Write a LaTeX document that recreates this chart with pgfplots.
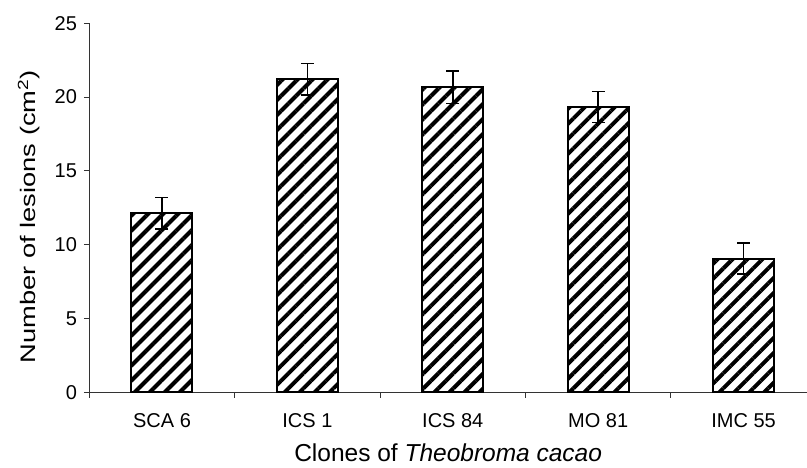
\documentclass[border=0pt]{standalone}
\usepackage{pgfplots}
\pgfplotsset{compat=1.18}
\usepackage{graphicx}
\usepackage{fontspec}
\setmainfont{Liberation Sans}
\usetikzlibrary{patterns.meta}
\pgfplotstableread{
x  y     e
0  12.13 1.07
1  21.22 1.07
2  20.66 1.10
3  19.33 1.05
4  9.05  1.05
}\lesions
\begin{document}
\fontsize{20}{24}\selectfont
\begin{tikzpicture}
\useasboundingbox (-89.3pt,-74.7pt) rectangle (717.7pt,392.3pt);
\begin{axis}[
  at={(0pt,0pt)}, anchor=south west,
  scale only axis, width=717.7pt, height=369pt,
  xmin=-0.5, xmax=4.436, ymin=0, ymax=25,
  axis x line*=bottom, axis y line*=left,
  axis line style={black!80, line width=0.9pt},
  tick style={black!80, line width=0.9pt},
  tick align=outside,
  major tick length=5.5pt,
  ytick={0,5,...,25},
  xtick={-0.5,0.5,1.5,2.5,3.5},
  xticklabels={},
  extra x ticks={0,1,2,3,4},
  extra x tick labels={SCA 6, ICS 1, ICS 84, MO 81, IMC 55},
  extra x tick style={tick style={draw=none}},
  /pgf/number format/assume math mode=true,
  ticklabel style={font=\fontsize{20}{24}\selectfont},
  xticklabel style={yshift=-9pt},
  ylabel={\scalebox{1.3}[1]{Number of lesions (cm\textsuperscript{2})}},
  ylabel style={font=\fontsize{21}{25}\selectfont, at={(axis description cs:-0.084,0.476)}, anchor=center},
  xlabel={Clones of \textit{Theobroma cacao}},
  xlabel style={font=\fontsize{24.5}{29}\selectfont, inner sep=0pt, at={(axis description cs:0.5,0)}, anchor=base, yshift=-69pt},
]
\addplot[ybar, bar width=61pt, draw=black, line width=2pt,
  pattern={Lines[angle=45, distance=10.6pt, line width=4pt]}, pattern color=black,
  error bars/.cd, y dir=both, y explicit,
  error bar style={line width=1.5pt, black},
  error mark options={rotate=90, line width=1.5pt, mark size=6.5pt, black}]
  table[x=x, y=y, y error=e] {\lesions};
\end{axis}
\end{tikzpicture}
\end{document}
